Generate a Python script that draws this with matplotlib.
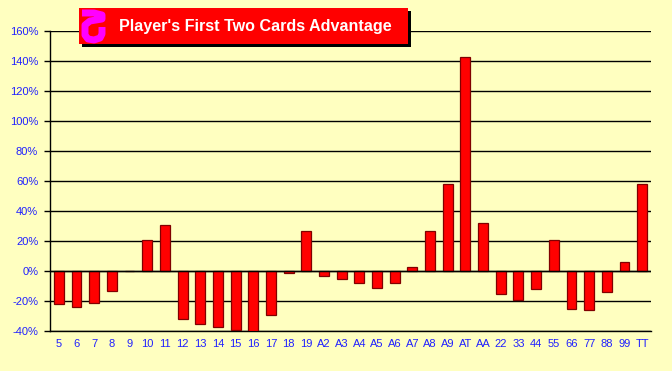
import matplotlib
matplotlib.use("Agg")
import matplotlib.pyplot as plt
from matplotlib.lines import Line2D
from matplotlib.patches import Rectangle
from matplotlib.ticker import FuncFormatter

categories = ["5","6","7","8","9","10","11","12","13","14","15","16","17","18","19",
              "A2","A3","A4","A5","A6","A7","A8","A9","AT","AA",
              "22","33","44","55","66","77","88","99","TT"]
values = [-22,-24,-21,-13,0,21,31,-32,-35,-37,-39,-40,-29,-1,27,
          -3,-5,-8,-11,-8,3,27,58,143,32,
          -15,-19,-12,21,-25,-26,-14,6,58]
yticks = list(range(-40, 161, 20))
title = "Player's First Two Cards Advantage"

W, H = 672, 371
BG = "#FFFFC0"
plt.rcParams["font.family"] = ["Liberation Sans", "DejaVu Sans"]
fig = plt.figure(figsize=(W/100, H/100), dpi=100, facecolor=BG)
ax = fig.add_axes([50.0/W, 1-331.0/H, 601/W, 300/H], facecolor=BG)
x = range(len(categories))
ax.bar(x, values, width=0.56, color="#FF0000", edgecolor="#800000", linewidth=0.9, zorder=3)
ax.set_xlim(-0.5, len(categories)-0.5)
ax.set_ylim(-40, 160)
ax.set_yticks(yticks)
ax.yaxis.set_major_formatter(FuncFormatter(lambda v, p: f"{int(v)}%"))
ax.set_xticks(list(x))
ax.set_xticklabels(categories)
ax.grid(axis="y", color="black", linewidth=1, zorder=1)
ax.set_axisbelow(True)
for s in ["top", "right"]:
    ax.spines[s].set_visible(False)
ax.spines["bottom"].set_linewidth(1)
ax.spines["left"].set_linewidth(1)
ax.axhline(0, color="black", linewidth=1, zorder=4)
ax.tick_params(axis="y", length=4, width=1, color="black", labelcolor="#2020FF", labelsize=8, pad=4.5)
ax.tick_params(axis="x", length=0, labelcolor="#2020FF", labelsize=8, pad=6)

# title banner, in pixel coordinates of the figure
def px(x0, y0, w, h, **kw):
    fig.add_artist(Rectangle((x0/W, 1-(y0+h)/H), w/W, h/H, transform=fig.transFigure, **kw))
px(82, 11, 329, 36, facecolor="black", edgecolor="none", zorder=10)
px(79, 8, 329, 36, facecolor="#FF0000", edgecolor="none", zorder=11)
fig.text(255/W, 1-26/H, title, color="white", fontsize=11.6, fontweight="bold",
         ha="center", va="center", zorder=12)
# logo glyph
logo_x = [82, 94, 102, 102, 90, 85, 85, 88, 94, 100, 102, 102]
logo_y = [13, 13, 15, 19, 21, 25, 35, 39, 40, 38, 34, 27]
fig.add_artist(Line2D([v/W for v in logo_x], [1-v/H for v in logo_y], transform=fig.transFigure,
                      color="#FF00FF", linewidth=5, solid_capstyle="butt",
                      solid_joinstyle="round", zorder=12))
fig.savefig("out.png", dpi=100, facecolor=BG)
